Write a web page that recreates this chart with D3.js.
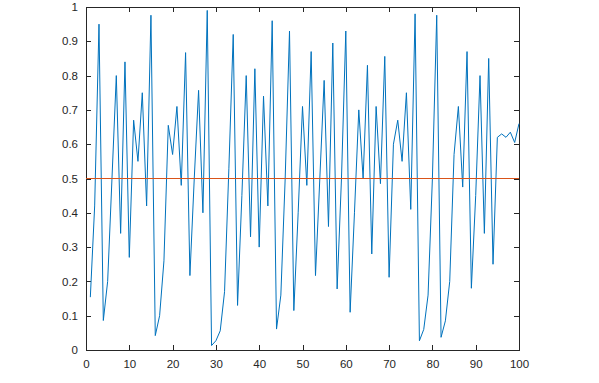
<!DOCTYPE html>
<html>
<head>
<meta charset="utf-8">
<script src="https://cdn.jsdelivr.net/npm/d3@7"></script>
<style>
  body { margin: 0; background: #fff; }
  svg { display: block; }
</style>
</head>
<body>
<svg></svg>
<script>
// series values, x = 1..100
var values = [
  0.154, 0.42, 0.95, 0.086, 0.20, 0.50, 0.80, 0.34, 0.84, 0.27,
  0.67, 0.55, 0.75, 0.42, 0.976, 0.042, 0.10, 0.26, 0.655, 0.57,
  0.71, 0.48, 0.867, 0.217, 0.50, 0.757, 0.40, 0.99, 0.013, 0.027,
  0.056, 0.17, 0.53, 0.92, 0.13, 0.45, 0.80, 0.33, 0.82, 0.30,
  0.74, 0.42, 0.96, 0.061, 0.16, 0.50, 0.93, 0.115, 0.40, 0.71,
  0.48, 0.87, 0.217, 0.50, 0.786, 0.36, 0.895, 0.178, 0.50, 0.93,
  0.11, 0.40, 0.70, 0.50, 0.83, 0.28, 0.71, 0.485, 0.856, 0.212,
  0.60, 0.67, 0.55, 0.75, 0.41, 0.98, 0.027, 0.06, 0.16, 0.50,
  0.976, 0.037, 0.085, 0.20, 0.57, 0.71, 0.475, 0.87, 0.18, 0.45,
  0.80, 0.34, 0.85, 0.25, 0.62, 0.63, 0.62, 0.635, 0.605, 0.66
];
var thresholdX = [0, 100];
var thresholdY = [0.5, 0.5];
var xTicks = [0, 10, 20, 30, 40, 50, 60, 70, 80, 90, 100];
var yTicks = [0, 0.1, 0.2, 0.3, 0.4, 0.5, 0.6, 0.7, 0.8, 0.9, 1];

var drawChart = function(){
    var width = 599;
    var height = 383;
    var left = 86, right = 519, top = 7, bottom = 350;
    var axisColor = "#262626";

    var svg = d3.select("svg")
      .attr("width", width)
      .attr("height", height);

    var x = d3.scaleLinear().domain([0, 100]).range([left, right]);
    var y = d3.scaleLinear().domain([0, 1]).range([bottom, top]);

    // box
    svg.append("rect")
      .attr("x", left)
      .attr("y", top)
      .attr("width", right - left)
      .attr("height", bottom - top)
      .attr("fill", "none")
      .attr("stroke", axisColor)
      .attr("stroke-width", 1)
      .attr("shape-rendering", "crispEdges");

    var fmt = function(d){ return String(+d.toFixed(1)); };

    var xAxis = svg.append("g")
      .attr("transform", "translate(0," + bottom + ")")
      .call(d3.axisBottom(x).tickValues(xTicks).tickSize(-5).tickPadding(10).tickFormat(fmt));
    var xTop = svg.append("g")
      .attr("transform", "translate(0," + top + ")")
      .call(d3.axisTop(x).tickValues(xTicks).tickSize(-5).tickFormat(""));
    var yAxis = svg.append("g")
      .attr("transform", "translate(" + left + ",0)")
      .call(d3.axisLeft(y).tickValues(yTicks).tickSize(-5).tickPadding(8).tickFormat(fmt));
    var yRight = svg.append("g")
      .attr("transform", "translate(" + right + ",0)")
      .call(d3.axisRight(y).tickValues(yTicks).tickSize(-5).tickFormat(""));

    [xAxis, xTop, yAxis, yRight].forEach(function(g){
      g.select(".domain").remove();
      g.selectAll("line").attr("stroke", axisColor).attr("shape-rendering", "crispEdges");
      g.selectAll("text")
        .attr("fill", axisColor)
        .attr("font-family", "'Liberation Sans', Arial, sans-serif")
        .attr("font-size", "11.5px");
    });

    var line = d3.line()
      .x(function(d, i){ return x(i + 1); })
      .y(function(d){ return y(d); });

    svg.append("path")
      .datum(values)
      .attr("d", line)
      .attr("fill", "none")
      .attr("stroke", "#0072BD")
      .attr("stroke-width", 1)
      .attr("stroke-linejoin", "round");

    var thresh = d3.line()
      .x(function(d){ return x(d); })
      .y(function(d, i){ return y(thresholdY[i]); });

    svg.append("path")
      .datum(thresholdX)
      .attr("d", thresh)
      .attr("fill", "none")
      .attr("stroke", "#D95319")
      .attr("stroke-width", 1);
}

drawChart();
</script>
</body>
</html>
